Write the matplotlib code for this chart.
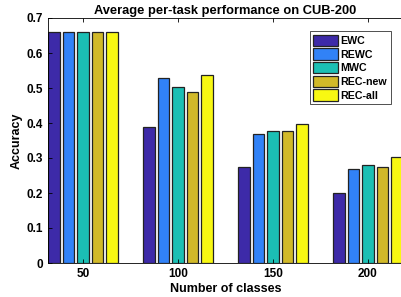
import numpy as np
import matplotlib
matplotlib.use('Agg')
import matplotlib.pyplot as plt

plt.rcParams['font.family'] = ['Liberation Sans', 'DejaVu Sans']
plt.rcParams['font.weight'] = 'bold'

# === Data ===
classes = ['50', '100', '150', '200']
methods = ['EWC', 'REWC', 'MWC', 'REC-new', 'REC-all']
ewc = [0.66, 0.39, 0.275, 0.20]
rewc = [0.66, 0.53, 0.37, 0.27]
mwc = [0.66, 0.503, 0.376, 0.279]
rec_new = [0.66, 0.488, 0.378, 0.273]
rec_all = [0.66, 0.537, 0.398, 0.303]
series = [ewc, rewc, mwc, rec_new, rec_all]
colors = ['#3d2aa8', '#3182f7', '#1bbfb4', '#d1b929', '#f8f812']

fig = plt.figure(figsize=(4.01, 2.97), dpi=100)
ax = fig.add_axes([48 / 401, 1 - 263 / 297, 355 / 401, 245 / 297])

x = np.arange(1, len(classes) + 1)
step = 0.153
width = 0.12
for i, (vals, c, name) in enumerate(zip(series, colors, methods)):
    ax.bar(x + (i - 2) * step, vals, width, color=c, edgecolor='#222222',
           linewidth=0.9, label=name)

ax.set_xlim(0.63, 4.37)
ax.set_ylim(0, 0.7)
ax.set_xticks(x)
ax.set_xticklabels(classes)
ax.set_yticks(np.arange(0, 0.71, 0.1))
ax.set_yticklabels(['0', '0.1', '0.2', '0.3', '0.4', '0.5', '0.6', '0.7'])
ax.tick_params(direction='in', top=True, right=False, labelsize=8.5, length=3, width=0.6)
for s in ax.spines.values():
    s.set_linewidth(0.6)

ax.set_title('Average per-task performance on CUB-200', fontsize=9.3, fontweight='bold', pad=3)
ax.set_xlabel('Number of classes', fontsize=9, fontweight='bold', labelpad=2)
ax.set_ylabel('Accuracy', fontsize=9, fontweight='bold', labelpad=3)

leg = ax.legend(loc='upper right', bbox_to_anchor=(0.98, 0.967), fontsize=7.7,
                handlelength=2.3, handleheight=1.25, handletextpad=0.3,
                labelspacing=0.22, borderpad=0.3, fancybox=False, framealpha=1)
leg.get_frame().set_edgecolor('#333333')
leg.get_frame().set_linewidth(0.6)

plt.savefig('out.png', dpi=100)
